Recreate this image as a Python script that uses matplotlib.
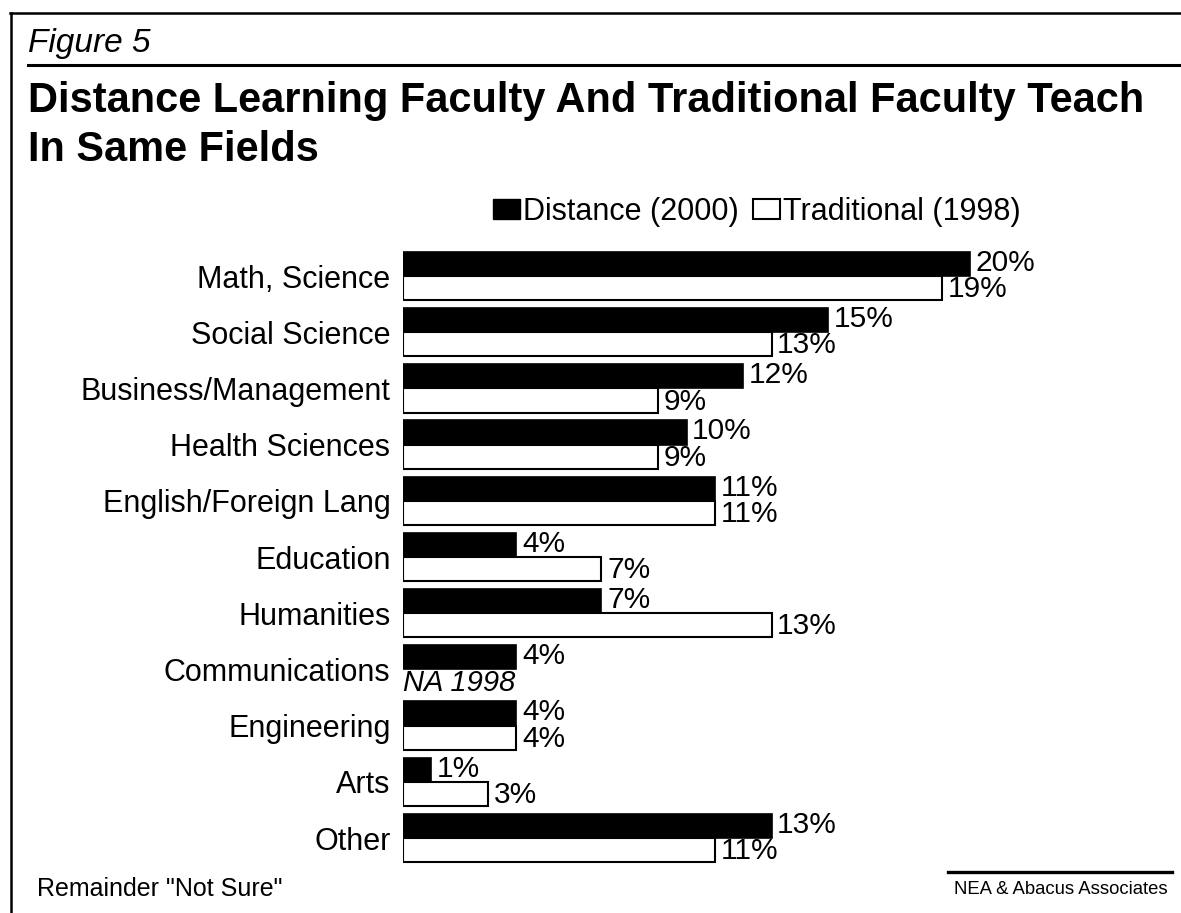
import matplotlib.pyplot as plt
from matplotlib.patches import Patch
from matplotlib.lines import Line2D
import numpy as np

plt.rcParams['font.family'] = ['Liberation Sans', 'DejaVu Sans']

fields = ["Math, Science", "Social Science", "Business/Management", "Health Sciences",
          "English/Foreign Lang", "Education", "Humanities", "Communications",
          "Engineering", "Arts", "Other"]
distance_2000 = [20, 15, 12, 10, 11, 4, 7, 4, 4, 1, 13]
traditional_1998 = [19, 13, 9, 9, 11, 7, 13, None, 4, 3, 11]

W, H = 1181, 913
fig = plt.figure(figsize=(W / 100, H / 100), dpi=100)

# axes placed in pixel terms: bars start at x=403, 28.35 px per percent
x0 = 403
px_per_pct = 28.35
top_px, bot_px = 247.9, 866.1
ax = fig.add_axes([x0 / W, (H - bot_px) / H, (W - x0) / W, (bot_px - top_px) / H])
ax.set_xlim(0, (W - x0) / px_per_pct)
ax.set_ylim(len(fields) - 0.5, -0.5)

y = np.arange(len(fields))
h = 0.43
trad_vals = [np.nan if v is None else v for v in traditional_1998]
ax.barh(y - h / 2, distance_2000, height=h, color="black", edgecolor="black", linewidth=1.2)
ax.barh(y + h / 2, trad_vals, height=h, color="white", edgecolor="black", linewidth=1.5)

for i, (d, t) in enumerate(zip(distance_2000, traditional_1998)):
    ax.text(d + 0.2, i - h / 2 - 0.02, f"{d}%", va="center", ha="left", fontsize=21.5)
    if t is None:
        ax.text(0, i + h / 2 + 0.02, "NA 1998", va="center", ha="left", fontsize=21, style="italic")
    else:
        ax.text(t + 0.2, i + h / 2 + 0.02, f"{t}%", va="center", ha="left", fontsize=21.5)

ax.set_yticks(y)
ax.set_yticklabels(fields, fontsize=22)
ax.tick_params(axis="y", length=0, pad=9)
ax.set_xticks([])
for s in ax.spines.values():
    s.set_visible(False)
ax.patch.set_alpha(0)

handles = [Patch(facecolor="black", edgecolor="black"),
           Patch(facecolor="white", edgecolor="black", linewidth=1.5)]
fig.legend(handles, ["Distance (2000)", "Traditional (1998)"], ncol=2, frameon=False,
           fontsize=22, loc="center", bbox_to_anchor=(757 / W, 1 - 212 / H),
           handlelength=0.9, handleheight=0.65, handletextpad=0.1, columnspacing=0.45)

# frame and rules
def hline(x1, x2, yy, lw):
    fig.add_artist(Line2D([x1 / W, x2 / W], [1 - yy / H, 1 - yy / H], color="black", lw=lw))

hline(10, W, 13, 1.8)
fig.add_artist(Line2D([11 / W, 11 / W], [1 - 13 / H, 0], color="black", lw=1.8))
hline(28, W, 65, 2.2)
hline(948, 1172, 872, 2.4)

fig.text(28 / W, 1 - 52 / H, "Figure 5", fontsize=24, style="italic", va="baseline")
fig.text(28 / W, 1 - 112 / H, "Distance Learning Faculty And Traditional Faculty Teach",
         fontsize=29.9, fontweight="bold", va="baseline")
fig.text(28 / W, 1 - 161 / H, "In Same Fields", fontsize=29.9, fontweight="bold", va="baseline")
fig.text(37 / W, 1 - 896 / H, 'Remainder "Not Sure"', fontsize=18, va="baseline")
fig.text(1168 / W, 1 - 894 / H, "NEA & Abacus Associates", fontsize=13.3, va="baseline", ha="right")

fig.savefig("out.png", dpi=100)
